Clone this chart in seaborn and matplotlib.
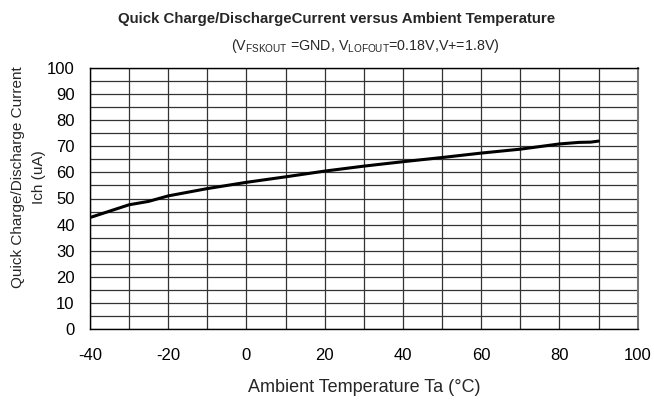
import matplotlib
matplotlib.use('Agg')
import matplotlib.pyplot as plt
import seaborn as sns
import pandas as pd
from matplotlib import font_manager

# values
temp_c = [-40, -30, -25, -20, -10, 0, 10, 20, 30, 40, 50, 60, 70, 80, 85, 88, 90]
ich_ua = [42.7, 47.6, 48.9, 51.0, 53.8, 56.2, 58.3, 60.5, 62.4, 64.1, 65.7, 67.4, 68.9, 70.9, 71.5, 71.6, 72.0]

x_ticks = list(range(-40, 101, 20))
y_ticks = list(range(0, 101, 10))

df = pd.DataFrame({'Ta': temp_c, 'Ich': ich_ua})

sns.set_theme(style='white')
names = {f.name for f in font_manager.fontManager.ttflist}
narrow = 'Liberation Sans Narrow' if 'Liberation Sans Narrow' in names else 'Liberation Sans'
plt.rcParams['font.family'] = ['Liberation Sans', 'DejaVu Sans']
plt.rcParams['mathtext.fontset'] = 'custom'
plt.rcParams['mathtext.rm'] = 'Liberation Sans'
plt.rcParams['axes.unicode_minus'] = False

fig = plt.figure(figsize=(6.54, 4.0), dpi=100)
ax = fig.add_axes([0.1376, 0.1775, 0.8374, 0.6525])

sns.lineplot(data=df, x='Ta', y='Ich', color='black', linewidth=2.2, ax=ax)

ax.set_xlim(-40, 100)
ax.set_ylim(0, 100)
ax.set_xticks(x_ticks)
ax.set_yticks(y_ticks)
ax.set_xticks(range(-40, 101, 10), minor=True)
ax.set_yticks(range(0, 101, 5), minor=True)
ax.grid(True, which='both', color='#333333', linewidth=0.9)
ax.tick_params(axis='both', which='both', length=0, labelsize=12, colors='black')
ax.tick_params(axis='y', pad=11)
ax.tick_params(axis='x', pad=14)
for s in ax.spines.values():
    s.set_color('black')
    s.set_linewidth(1.0)
ax.spines['right'].set_color('#777777')
ax.spines['right'].set_linewidth(1.5)

ax.set_xlabel('Ambient Temperature Ta (°C)', fontsize=13)
ax.xaxis.set_label_coords(0.5, -0.19)
ax.set_ylabel('Quick Charge/Discharge Current\nIch (uA)', fontsize=11, linespacing=1.65)
ax.yaxis.set_label_coords(-0.08, 0.58)

fig.text(0.514, 0.952, 'Quick Charge/DischargeCurrent versus Ambient Temperature',
         ha='center', va='center', fontsize=10.8, fontweight='bold', family=narrow)
fig.text(0.558, 0.884, r'(V$_{\mathrm{FSKOUT}}$ =GND, V$_{\mathrm{LOFOUT}}$=0.18V,V+=1.8V)',
         ha='center', va='center', fontsize=10.3)

fig.savefig('out.png', dpi=100)
